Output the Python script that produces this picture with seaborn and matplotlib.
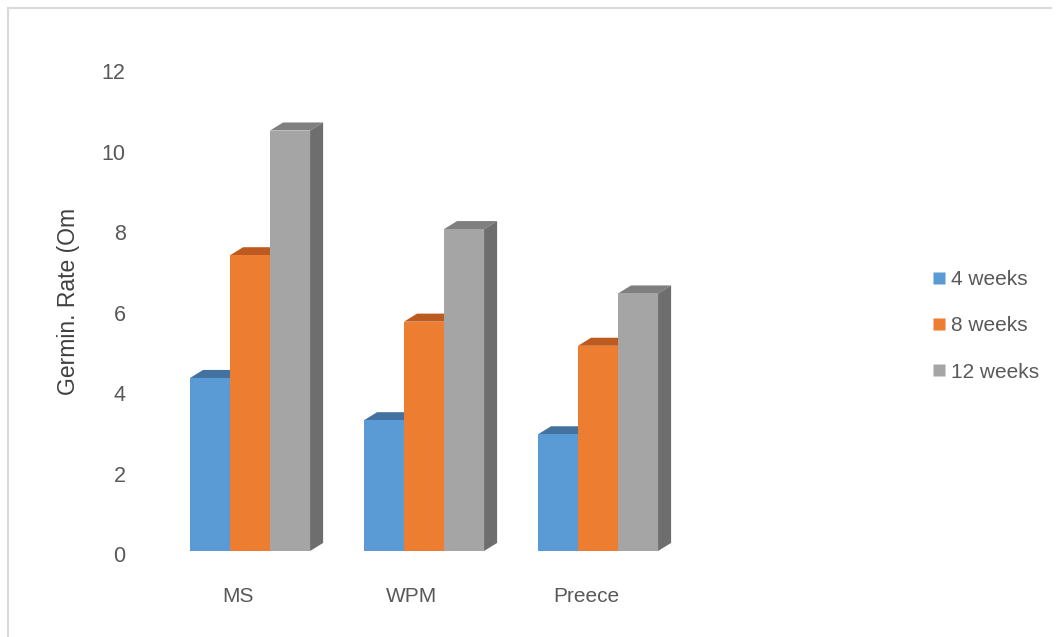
import matplotlib
matplotlib.use("Agg")
import matplotlib.pyplot as plt
import matplotlib.transforms as mtransforms
from matplotlib.patches import Polygon
from matplotlib.lines import Line2D
import seaborn as sns
import pandas as pd
import numpy as np

# Germination data by culture medium and storage time
media = ["MS", "WPM", "Preece"]
periods = ["4 weeks", "8 weeks", "12 weeks"]
rate_4w = [4.3, 3.25, 2.9]
rate_8w = [7.35, 5.7, 5.1]
rate_12w = [10.45, 8.0, 6.4]

front_colors = ["#5B9BD5", "#ED7D31", "#A5A5A5"]
top_colors = ["#4472A0", "#BC5A1F", "#7F7F7F"]
side_colors = ["#3F6C97", "#B0541C", "#6E6E6E"]

df = pd.DataFrame({
    "Medium": np.repeat(media, 3),
    "Period": periods * 3,
    "Rate": [v for trio in zip(rate_4w, rate_8w, rate_12w) for v in trio],
})

sns.set_style("white")
plt.rcParams["font.family"] = ["Liberation Sans", "DejaVu Sans"]

fig = plt.figure(figsize=(10.56, 6.37), dpi=100)
ax = fig.add_axes([0.1544, 0.135, 0.4943, 0.758])

sns.barplot(data=df, x="Medium", y="Rate", hue="Period", order=media,
            hue_order=periods, palette=front_colors, width=0.69,
            saturation=1, dodge=True, ax=ax, legend=False, zorder=3)

# Pseudo-3D depth: top and right faces behind each front face
dx, dy = 0.075, 0.2
for i, container in enumerate(ax.containers):
    for bar in container:
        x0 = bar.get_x()
        x1 = x0 + bar.get_width()
        h = bar.get_height()
        top = Polygon([(x0, h), (x0 + dx, h + dy), (x1 + dx, h + dy), (x1, h)],
                      closed=True, facecolor=top_colors[i], edgecolor="none",
                      zorder=2)
        side = Polygon([(x1, 0), (x1 + dx, dy), (x1 + dx, h + dy), (x1, h)],
                       closed=True, facecolor=side_colors[i], edgecolor="none",
                       zorder=2)
        ax.add_patch(top)
        ax.add_patch(side)
        bar.set_edgecolor("none")

ax.set_xlim(-0.5, 2.5)
ax.set_ylim(0, 12)
ax.set_yticks(range(0, 13, 2))
for s in ax.spines.values():
    s.set_visible(False)
ax.tick_params(axis="y", length=0, pad=27, labelsize=15.5, labelcolor="#595959")
ax.tick_params(axis="x", length=0, pad=26, labelsize=15, labelcolor="#595959")
shift = mtransforms.ScaledTranslation(0, -3 / 100, fig.dpi_scale_trans)
for lbl in ax.get_yticklabels():
    lbl.set_transform(lbl.get_transform() + shift)
ax.set_xticks(np.arange(len(media)) - 0.07)
ax.set_xticklabels(media)
ax.set_xlabel("")
ax.set_ylabel("Germin. Rate (Om", fontsize=16.5, color="#404040")
ax.yaxis.set_label_coords(-0.16, 0.517)

handles = [Line2D([0], [0], marker="s", linestyle="none", markersize=8,
                  markerfacecolor=c, markeredgecolor="none") for c in front_colors]
fig.legend(handles, periods, loc="upper left", bbox_to_anchor=(0.862, 0.605),
           frameon=False, fontsize=15, labelcolor="#595959",
           handletextpad=0.05, labelspacing=1.3, handlelength=1.0)

# Outer chart frame (left and top edges)
fig.add_artist(Line2D([0.008, 0.008], [0.0, 0.987], transform=fig.transFigure,
                      color="#D9D9D9", linewidth=1.5))
fig.add_artist(Line2D([0.008, 0.995], [0.987, 0.987], transform=fig.transFigure,
                      color="#D9D9D9", linewidth=1.5))

fig.savefig("out.png", dpi=100)
